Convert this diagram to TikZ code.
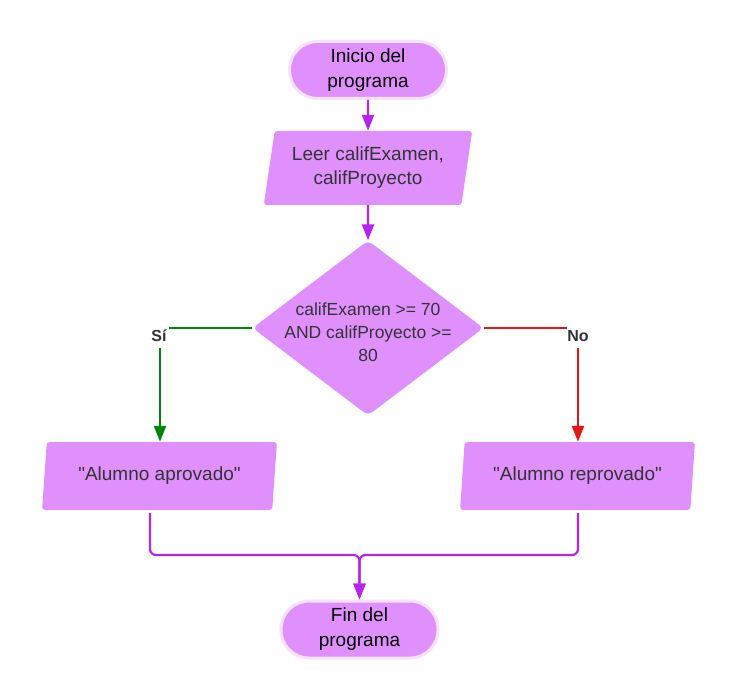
\documentclass[tikz,border=0pt]{standalone}
\usepackage{fontspec}
\setmainfont{Liberation Sans}
\newfontfamily\plainsans{Liberation Sans}
\usetikzlibrary{shapes.geometric,arrows.meta,calc}
\definecolor{boxfill}{RGB}{224,144,252}
\definecolor{halo}{RGB}{246,226,253}
\definecolor{flowpurple}{RGB}{183,36,240}
\definecolor{yesgreen}{RGB}{0,135,10}
\definecolor{nored}{RGB}{228,22,22}
\definecolor{textgray}{RGB}{51,51,51}
\begin{document}
\begin{tikzpicture}[x=1pt,y=-1pt,
  term/.style={rectangle, rounded corners=28pt, fill=boxfill, draw=halo, line width=3pt,
    minimum width=157pt, minimum height=57pt, align=center, inner sep=0pt,
    font=\fontsize{19}{25}\selectfont, text=black},
  iobox/.style={trapezium, trapezium stretches=true, trapezium left angle=#1,
    trapezium right angle=180-#1, fill=boxfill, rounded corners=3pt, inner sep=0pt,
    align=center, font=\plainsans\fontsize{19}{24}\selectfont, text=textgray},
  decision/.style={diamond, fill=boxfill, rounded corners=5pt, inner sep=0pt,
    minimum width=231pt, minimum height=175pt},
  dtext/.style={align=center, font=\fontsize{17.5}{23}\selectfont, text=textgray, inner sep=0pt},
  branchlbl/.style={fill=white, inner sep=0pt, minimum width=20pt, minimum height=24pt,
    font=\fontsize{16}{18}\selectfont\bfseries, text=textgray},
  tip/.style={-{Triangle[width=12pt,length=16pt]}},
  flow/.style={draw=flowpurple, line width=2.2pt, tip},
  yes/.style={draw=yesgreen, line width=2.6pt, tip},
  no/.style={draw=nored, line width=2.6pt, tip}
]
\useasboundingbox (0,0) rectangle (738,700);

\node[term] (start) at (368,70) {Inicio del\\programa};
\node[iobox=78, minimum width=209pt, minimum height=74pt] (read) at (368,168)
  {Leer califExamen,\\califProyecto};
\node[decision] (dec) at (368,328) {};
\node[dtext] (dectext) at ([yshift=-4pt]dec.center)
  {califExamen >= 70\\AND califProyecto >=\\80};
\node[iobox=79, minimum width=235pt, minimum height=68pt] (pass) at (159.5,476)
  {"Alumno aprovado"};
\node[iobox=79, minimum width=235pt, minimum height=68pt] (fail) at (577.5,476)
  {"Alumno reprovado"};
\node[term] (end) at (359.5,629.5) {Fin del\\programa};

\coordinate (sicorner) at (160,328);
\coordinate (nocorner) at (578,328);
\coordinate (merge) at (359.5,555);
\coordinate (passout) at (150,513);
\coordinate (failout) at (578,513);

\draw[flow] (start.south) -- (read.north);
\draw[flow] (read.south) -- (dec.north);

\draw[yes] (dec.west) -- (sicorner) -- (sicorner |- pass.north);
\draw[no] (dec.east) -- (nocorner) -- (nocorner |- fail.north);
\node[branchlbl] (si) at (159,336) {Sí};
\node[branchlbl] (nolbl) at (578,336) {No};

\draw[flow, rounded corners=6pt] (passout) |- (merge) -- (end.north);
\draw[flow, rounded corners=6pt] (failout) |- (merge) -- (end.north);
\end{tikzpicture}
\end{document}
